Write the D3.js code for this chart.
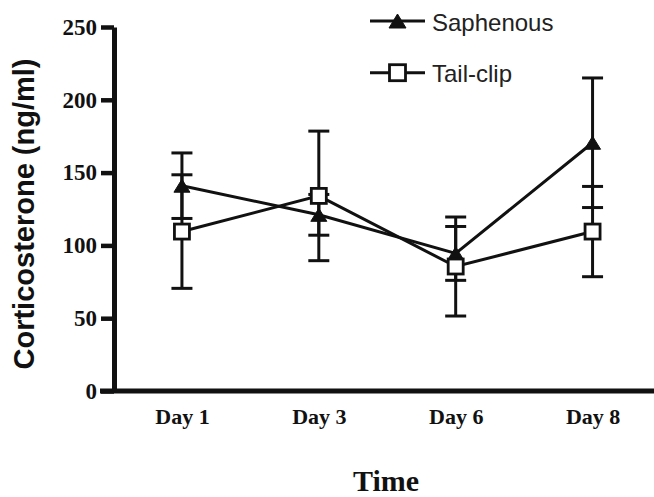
<!DOCTYPE html>
<html>
<head>
<meta charset="utf-8">
<script src="https://cdn.jsdelivr.net/npm/d3@7"></script>
<style>
  body { margin: 0; background: #fff; }
  svg { display: block; }
</style>
</head>
<body>
<script>
var svgWidth = 654;
var svgHeight = 497;

// data
var days = ["Day 1", "Day 3", "Day 6", "Day 8"];
var saphenous = [141, 121, 94.5, 170.5];
var saphenousErr = [22.5, 14, 18.5, 44.5];
var tailClip = [109.5, 134, 85.5, 109.5];
var tailClipErr = [39, 44.5, 34, 31];
var yTicks = [0, 50, 100, 150, 200, 250];

var series = [
    { name: "Saphenous", values: saphenous, errs: saphenousErr, shape: "triangle" },
    { name: "Tail-clip", values: tailClip, errs: tailClipErr, shape: "square" }
];

var x = d3.scalePoint().domain(days).range([113.5, 661]).padding(0.5);
var y = d3.scaleLinear().domain([0, 250]).range([391, 27]);

var svg = d3.select("body")
    .append("svg")
    .attr("width", svgWidth)
    .attr("height", svgHeight);

// triangle centred on its bounding box, like the original plot software
var trianglePath = function (w, h) {
    return "M0," + (-h / 2) + "L" + (w / 2) + "," + (h / 2) + "L" + (-w / 2) + "," + (h / 2) + "Z";
};

var drawMarker = function (g, shape, cx, cy, size) {
    if (shape === "triangle") {
        g.append("path")
            .attr("d", trianglePath(size + 1, size - 2))
            .attr("transform", "translate(" + cx + "," + cy + ")")
            .attr("fill", "#111")
            .attr("stroke", "#111")
            .attr("stroke-width", 1);
    } else {
        g.append("rect")
            .attr("x", cx - size / 2)
            .attr("y", cy - size / 2)
            .attr("width", size)
            .attr("height", size)
            .attr("fill", "#fff")
            .attr("stroke", "#111")
            .attr("stroke-width", 2.8);
    }
};

// y axis
var yAxis = svg.append("g")
    .attr("transform", "translate(114,0)")
    .call(d3.axisLeft(y).tickValues(yTicks).tickSize(13).tickSizeOuter(0).tickPadding(4));
yAxis.select(".domain").attr("stroke", "#111").attr("stroke-width", 5);
yAxis.selectAll(".tick line").attr("stroke", "#111").attr("stroke-width", 4.5);
yAxis.selectAll(".tick text")
    .attr("fill", "#111")
    .attr("font-family", "Liberation Serif, Times New Roman, serif")
    .attr("font-weight", "bold")
    .attr("font-size", "23px");

// x axis
var xAxis = svg.append("g")
    .attr("transform", "translate(0," + y(0) + ")")
    .call(d3.axisBottom(x).tickSize(0).tickPadding(17));
xAxis.select(".domain").remove();
xAxis.append("line")
    .attr("x1", 100)
    .attr("x2", svgWidth)
    .attr("y1", 0)
    .attr("y2", 0)
    .attr("stroke", "#111")
    .attr("stroke-width", 5);
xAxis.selectAll(".tick text")
    .attr("fill", "#111")
    .attr("font-family", "Liberation Serif, Times New Roman, serif")
    .attr("font-weight", "bold")
    .attr("font-size", "22px");

// axis titles
svg.append("text")
    .attr("transform", "translate(34,214) rotate(-90)")
    .attr("text-anchor", "middle")
    .attr("font-family", "Liberation Sans, Arial, sans-serif")
    .attr("font-weight", "bold")
    .attr("font-size", "29px")
    .attr("fill", "#111")
    .text("Corticosterone (ng/ml)");

svg.append("text")
    .attr("x", 386)
    .attr("y", 491)
    .attr("text-anchor", "middle")
    .attr("font-family", "Liberation Serif, Times New Roman, serif")
    .attr("font-weight", "bold")
    .attr("font-size", "30px")
    .attr("fill", "#111")
    .text("Time");

// error bars and connecting lines
var line = d3.line()
    .x(function (d, i) { return x(days[i]); })
    .y(function (d) { return y(d); });

var plot = svg.append("g");
series.forEach(function (s) {
    var eb = plot.append("g").selectAll("g")
        .data(s.values)
        .enter()
        .append("g")
        .attr("stroke", "#111")
        .attr("stroke-width", 3);
    eb.append("line")
        .attr("x1", function (d, i) { return x(days[i]); })
        .attr("x2", function (d, i) { return x(days[i]); })
        .attr("y1", function (d, i) { return y(d - s.errs[i]); })
        .attr("y2", function (d, i) { return y(d + s.errs[i]); });
    eb.append("line")
        .attr("x1", function (d, i) { return x(days[i]) - 10.5; })
        .attr("x2", function (d, i) { return x(days[i]) + 10.5; })
        .attr("y1", function (d, i) { return y(d + s.errs[i]); })
        .attr("y2", function (d, i) { return y(d + s.errs[i]); });
    eb.append("line")
        .attr("x1", function (d, i) { return x(days[i]) - 10.5; })
        .attr("x2", function (d, i) { return x(days[i]) + 10.5; })
        .attr("y1", function (d, i) { return y(d - s.errs[i]); })
        .attr("y2", function (d, i) { return y(d - s.errs[i]); });
});
series.forEach(function (s) {
    plot.append("path")
        .datum(s.values)
        .attr("d", line)
        .attr("fill", "none")
        .attr("stroke", "#111")
        .attr("stroke-width", 3);
});
series.forEach(function (s) {
    var mg = plot.append("g");
    s.values.forEach(function (d, i) {
        drawMarker(mg, s.shape, x(days[i]), y(d), 15);
    });
});

// legend
var legendY = [21, 72.7];
series.forEach(function (s, k) {
    var lg = svg.append("g").attr("transform", "translate(0," + legendY[k] + ")");
    lg.append("line")
        .attr("x1", 370)
        .attr("x2", 425)
        .attr("y1", 0)
        .attr("y2", 0)
        .attr("stroke", "#111")
        .attr("stroke-width", 3);
    drawMarker(lg, s.shape, 397.5, 0, 16);
    lg.append("text")
        .attr("x", 432)
        .attr("y", 9.5)
        .attr("font-family", "Liberation Sans, Arial, sans-serif")
        .attr("font-size", "24px")
        .attr("fill", "#222")
        .text(s.name);
});
</script>
</body>
</html>
